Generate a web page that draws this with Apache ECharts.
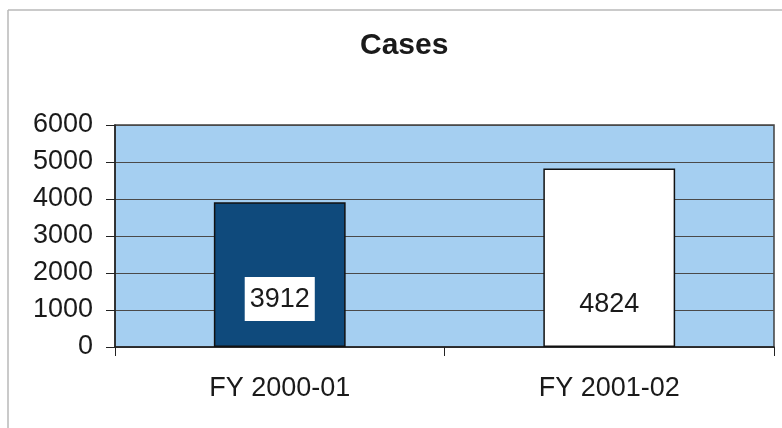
<!DOCTYPE html>
<html>
<head>
<meta charset="utf-8">
<script src="https://cdn.jsdelivr.net/npm/echarts@6/dist/echarts.min.js"></script>
<style>
  html, body { margin: 0; padding: 0; background: #ffffff; }
  #chart { width: 782px; height: 428px; }
</style>
</head>
<body>
<div id="chart"></div>
<script>
// Case counts by fiscal year
const categories = ['FY 2000-01', 'FY 2001-02'];
const caseCounts = [3912, 4824];
const barColors = ['#0f4a7c', '#ffffff'];
const yTicks = [0, 1000, 2000, 3000, 4000, 5000, 6000];

const chart = echarts.init(document.getElementById('chart'), null, { renderer: 'canvas' });
const font = '"Liberation Sans", Arial, sans-serif';

chart.setOption({
  animation: false,
  backgroundColor: '#ffffff',
  title: {
    text: 'Cases',
    left: 355,
    top: 26,
    textStyle: { fontFamily: font, fontSize: 30, fontWeight: 'bold', color: '#1a1a1a' }
  },
  graphic: [
    { type: 'line', shape: { x1: 8, y1: 10, x2: 782, y2: 10 }, style: { stroke: '#b8b8b8', lineWidth: 1.5 } },
    { type: 'line', shape: { x1: 8, y1: 10, x2: 8, y2: 428 }, style: { stroke: '#b8b8b8', lineWidth: 1.5 } }
  ],
  grid: {
    left: 115, right: 8, top: 125, bottom: 81,
    show: true,
    backgroundColor: '#a5cff1',
    borderColor: '#404040',
    borderWidth: 1.5
  },
  xAxis: {
    type: 'category',
    data: categories,
    axisLine: { lineStyle: { color: '#222222', width: 1.5 } },
    axisTick: { show: true, length: 9, lineStyle: { color: '#222222', width: 1 } },
    axisLabel: { margin: 28, fontFamily: font, fontSize: 27, color: '#1a1a1a' }
  },
  yAxis: {
    type: 'value',
    min: yTicks[0],
    max: yTicks[yTicks.length - 1],
    interval: yTicks[1] - yTicks[0],
    axisLine: { show: true, lineStyle: { color: '#222222', width: 1.5 } },
    axisTick: { show: true, length: 9, lineStyle: { color: '#222222', width: 1 } },
    axisLabel: {
      margin: 22, fontFamily: font, fontSize: 27, color: '#1a1a1a',
      formatter: v => String(v)
    },
    splitLine: { lineStyle: { color: '#4a4a4a', width: 1.2 } }
  },
  series: [{
    type: 'bar',
    barWidth: '40%',
    data: caseCounts.map((v, i) => ({
      value: v,
      itemStyle: { color: barColors[i] },
      label: { distance: i === 0 ? 26 : 21 }
    })),
    itemStyle: { borderColor: '#111111', borderWidth: 1.5 },
    label: {
      show: true,
      position: 'insideBottom',
      fontFamily: font,
      fontSize: 27,
      color: '#1a1a1a',
      backgroundColor: '#ffffff',
      padding: [9, 5, 8, 5]
    }
  }]
});
</script>
</body>
</html>
